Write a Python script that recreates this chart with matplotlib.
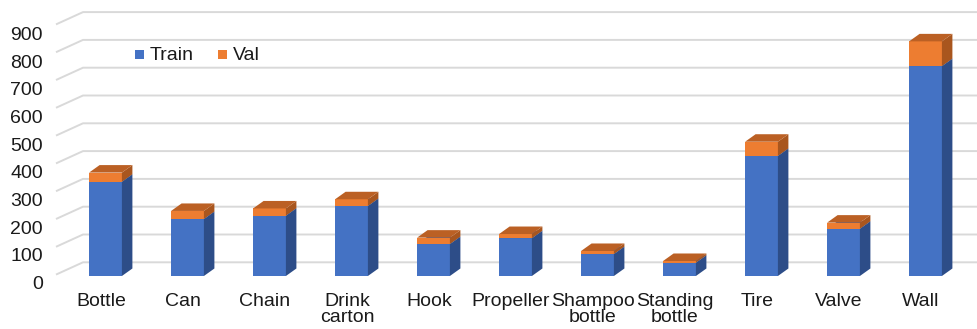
import matplotlib.pyplot as plt
from matplotlib.patches import Polygon, Rectangle

# datos
categorias = ['Bottle', 'Can', 'Chain', 'Drink\ncarton', 'Hook', 'Propeller',
              'Shampoo\nbottle', 'Standing\nbottle', 'Tire', 'Valve', 'Wall']
train = [339, 205, 217, 252, 115, 136, 79, 48, 432, 170, 755]
val = [33, 29, 26, 24, 23, 15, 11, 6, 51, 22, 89]
ticks = [0, 100, 200, 300, 400, 500, 600, 700, 800, 900]

plt.rcParams['font.family'] = ['Liberation Sans', 'DejaVu Sans']

W, H = 978, 329
fig = plt.figure(figsize=(W / 100, H / 100), dpi=100)
ax = fig.add_axes([0, 0, 1, 1])

# escala: pixeles por categoria y por unidad
X0, PXC = 105.5, 82.0
Y0, PXV = 276.0, 0.278
ax.set_xlim(-X0 / PXC, (W - X0) / PXC)
ax.set_ylim((Y0 - H) / PXV, Y0 / PXV)
ax.axis('off')

ancho = 0.40
dx = 10.5 / PXC
dy = 7.5 / PXV
fs = 14

# lineas de la cuadricula (pared de fondo + piso en diagonal)
x_back = (83 - X0) / PXC
x_diag = (56 - X0) / PXC
off_back = 13.7 / PXV
off_diag = 1.4 / PXV
for v in ticks:
    ax.plot([x_diag, x_back, (W - X0) / PXC], [v + off_diag, v + off_back, v + off_back],
            color='#d9d9d9', lw=1.4, zorder=1, solid_capstyle='butt')
    ax.text((43 - X0) / PXC, v * 0.995 - 31, str(v), ha='right', va='center',
            fontsize=fs, color='#1a1a1a')

def caja(i, b, t, c_front, c_side, c_top):
    xl, xr = i - ancho / 2, i + ancho / 2
    ax.add_patch(Rectangle((xl, b), ancho, t - b, facecolor=c_front, edgecolor='none', zorder=3))
    ax.add_patch(Polygon([(xr, b), (xr + dx, b + dy), (xr + dx, t + dy), (xr, t)],
                         facecolor=c_side, edgecolor='none', zorder=3))
    ax.add_patch(Polygon([(xl, t), (xl + dx, t + dy), (xr + dx, t + dy), (xr, t)],
                         facecolor=c_top, edgecolor='none', zorder=3))

for i, (tr, va) in enumerate(zip(train, val)):
    caja(i, 0, tr, '#4472c4', '#2d4d88', '#3a63ad')
    caja(i, tr, tr + va, '#ed7d31', '#a9561e', '#bb6024')
    ax.text(i - 0.055, (Y0 - 293) / PXV, categorias[i], ha='center', va='top',
            fontsize=fs, linespacing=0.9, color='#1a1a1a')

# leyenda
for xm, nombre, col in [(135, 'Train', '#4472c4'), (218, 'Val', '#ed7d31')]:
    fig.patches.append(Rectangle((xm / W, 1 - 59 / H), 9 / W, 9 / H, transform=fig.transFigure,
                                 facecolor=col, edgecolor='none'))
    fig.text((xm + 15) / W, 1 - 55.5 / H, nombre, ha='left', va='center', fontsize=fs,
             color='#1a1a1a')

plt.savefig('out.png', dpi=100, facecolor='white')
